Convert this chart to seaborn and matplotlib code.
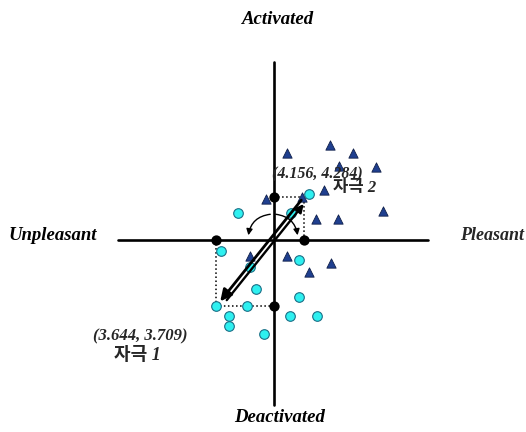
import matplotlib

matplotlib.use("Agg")
import matplotlib.pyplot as plt
import seaborn as sns
from matplotlib.patches import FancyArrowPatch

# affect-space coordinates (origin = neutral point, 1 unit ~ 10 px)
tri_x = [1.27, 5.6, 7.87, 6.45, 10.15, 4.95, 2.8, -0.85, 10.87, 4.2, 6.43, -2.4, 1.27, 3.5, 5.7]
tri_y = [8.73, 9.5, 8.7, 7.45, 7.35, 5.0, 4.3, 4.1, 2.9, 2.1, 2.1, -1.6, -1.6, -3.15, -2.33]

circ_x = [-3.57, 1.67, 3.45, -5.35, -2.4, -1.8, -5.85, -2.75, -4.47, -4.47, -0.97, 2.5, 2.5, 1.6, 4.27]
circ_y = [2.73, 2.67, 4.57, -1.1, -2.65, -4.9, -6.6, -6.6, -7.55, -8.57, -9.4, -1.95, -5.7, -7.55, -7.55]

stim_names = ["자극 1", "자극 2"]
stim_labels = ["(3.644, 3.709)", "(4.156, 4.284)"]
stim_x = [-5.85, 3.0]
stim_y = [-6.55, 4.3]

axis_names = ["Activated", "Deactivated", "Unpleasant", "Pleasant"]

sns.set_theme(style="white")
plt.rcParams["font.family"] = ["Liberation Serif", "Noto Sans CJK KR"]

fig = plt.figure(figsize=(5.26, 4.32), dpi=100)
ax = fig.add_axes([0, 0, 1, 1])
ax.set_xlim(-27.4, 25.2)
ax.set_ylim(-19.2, 24.0)
ax.axis("off")

# axes of the affect space
ax.plot([-15.6, 15.4], [0, 0], color="black", lw=1.9, zorder=1)
ax.plot([0, 0], [-16.5, 17.8], color="black", lw=1.9, zorder=1)

# projections of the two stimuli onto the axes
for sx, sy in zip(stim_x, stim_y):
    ax.plot([sx, sx], [0, sy], color="black", lw=1.1, ls=":", zorder=2)
    ax.plot([0, sx], [sy, sy], color="black", lw=1.1, ls=":", zorder=2)
sns.scatterplot(x=[0, stim_x[1], stim_x[0], 0], y=[stim_y[1], 0, 0, stim_y[0]],
                color="black", s=55, ax=ax, zorder=5, linewidth=0)

sns.scatterplot(x=tri_x, y=tri_y, marker="^", color="#1f3f8f", edgecolor="#10204a",
                linewidth=0.6, s=45, ax=ax, zorder=3)
sns.scatterplot(x=circ_x, y=circ_y, marker="o", color="#2ef0f0", edgecolor="#1a6e86",
                linewidth=0.8, s=48, ax=ax, zorder=3)

# the shift between stimulus 1 and stimulus 2 (two parallel arrows)
off_x, off_y = 0.35, -0.28
ax.add_patch(FancyArrowPatch((stim_x[1] - 0.1, stim_y[1] - 0.1), (stim_x[0] + 0.3, stim_y[0] + 0.2),
                             arrowstyle="-|>", mutation_scale=17, lw=2.0, color="black", zorder=4))
ax.add_patch(FancyArrowPatch((stim_x[0] + 0.6 + off_x, stim_y[0] + 0.6 + off_y),
                             (stim_x[1] - 0.2 + off_x, stim_y[1] - 0.2 + off_y),
                             arrowstyle="-|>", mutation_scale=12, lw=1.7, color="black", zorder=4))
# rotation arcs round the origin
ax.add_patch(FancyArrowPatch((-0.1, 2.6), (-2.6, 0.2), connectionstyle="arc3,rad=0.42",
                             arrowstyle="-|>", mutation_scale=9, lw=1.0, color="black", zorder=4))
ax.add_patch(FancyArrowPatch((-0.1, 2.6), (2.4, 0.2), connectionstyle="arc3,rad=-0.42",
                             arrowstyle="-|>", mutation_scale=9, lw=1.0, color="black", zorder=4))

lab_style = dict(fontsize=13.5, fontweight="bold", fontstyle="italic", color="black")
ax.text(0.4, 22.0, axis_names[0], ha="center", va="center", **lab_style)
ax.text(0.6, -17.8, axis_names[1], ha="center", va="center", **lab_style)
ax.text(-26.6, 0.5, axis_names[2], ha="left", va="center", **lab_style)
ax.text(25.0, 0.5, axis_names[3], ha="right", va="center", fontsize=13,
        fontweight="bold", fontstyle="italic")

ax.text(-0.2, 6.6, stim_labels[1], ha="left", va="center", fontsize=11.5,
        fontweight="bold", fontstyle="italic")
ax.text(-18.1, -9.6, stim_labels[0], ha="left", va="center", fontsize=12,
        fontweight="bold", fontstyle="italic")
ax.text(5.9, 5.2, stim_names[1], ha="left", va="center", fontsize=12,
        fontweight="bold", fontstyle="italic")
ax.text(-16.0, -11.6, stim_names[0], ha="left", va="center", fontsize=13,
        fontweight="bold", fontstyle="italic")

fig.savefig("out.png", dpi=100)
